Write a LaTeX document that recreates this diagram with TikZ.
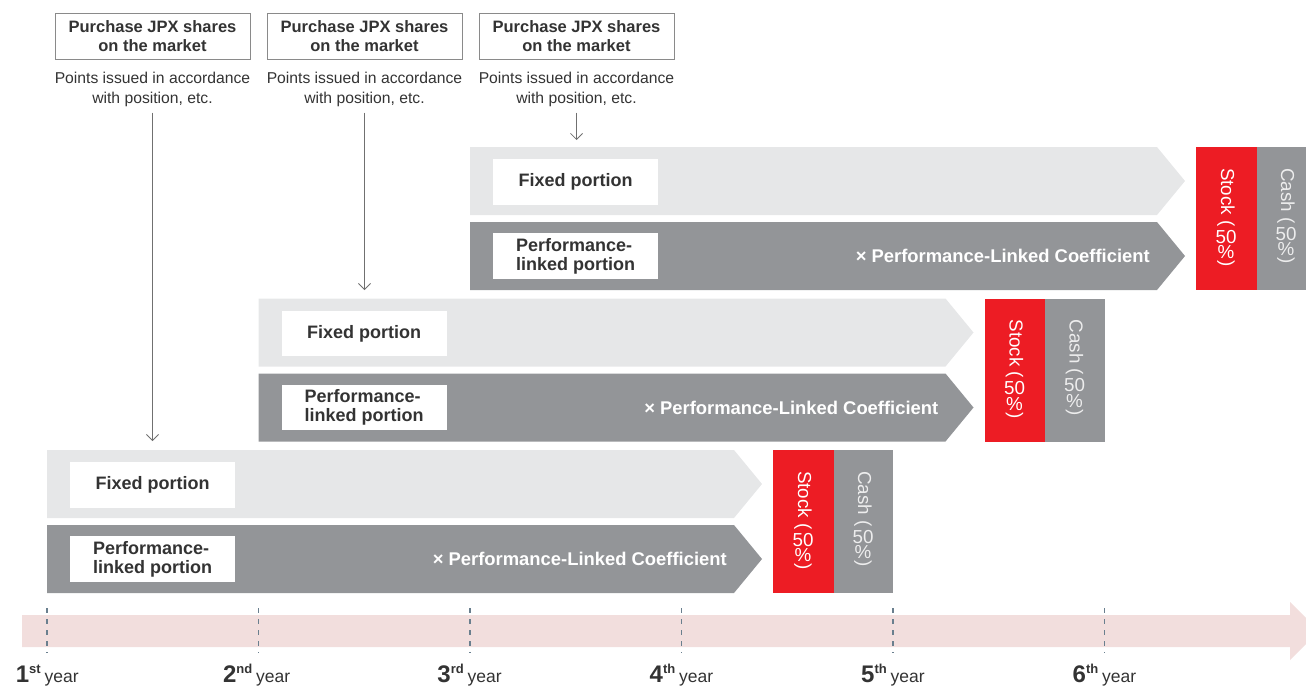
\documentclass[tikz,border=0pt]{standalone}
\usepackage{fontspec}
\setmainfont{Liberation Sans}
\usetikzlibrary{arrows.meta}
\definecolor{lightbar}{HTML}{E6E7E8}
\definecolor{darkbar}{HTML}{939598}
\definecolor{stockred}{HTML}{ED1C24}
\definecolor{bandpink}{HTML}{F2DEDD}
\definecolor{ticku}{HTML}{6A7F8E}
\definecolor{txt}{HTML}{333333}
\definecolor{boxline}{HTML}{8A8A8A}
\definecolor{arrowgray}{HTML}{707070}
\definecolor{cashtxt}{HTML}{EDEDED}
\tikzset{
 lbl/.style={fill=white, text=txt, font=\fontsize{18}{19}\selectfont\bfseries, minimum width=165pt, minimum height=45.5pt, inner sep=0pt, anchor=north west},
 coef/.style={text=white, font=\fontsize{18.4}{19}\selectfont\bfseries, inner sep=0pt, anchor=east},
 vrot/.style={rotate=-90, inner sep=0pt, font=\fontsize{18.8}{19}\selectfont, anchor=west},
 vup/.style={inner sep=0pt, font=\fontsize{18.8}{19}\selectfont, anchor=north},
 topbox/.style={draw=boxline, line width=0.8pt, fill=white, text=txt, minimum width=195pt, minimum height=46pt, align=center, font=\fontsize{16.5}{19}\selectfont\bfseries, inner sep=0pt},
 pts/.style={text=txt, align=center, font=\fontsize{15.7}{20}\selectfont, inner sep=0pt},
 arr/.style={draw=arrowgray, line width=0.8pt, -{Straight Barb[length=6pt,width=12pt]}},
 tickline/.style={draw=ticku, line width=1.1pt, dash pattern=on 5pt off 6pt},
 yrnum/.style={text=txt, inner sep=0pt, anchor=base east},
 yrword/.style={text=txt, inner sep=0pt, anchor=base west, font=\fontsize{17.5}{18}\selectfont},
}
\begin{document}
\begin{tikzpicture}[x=1pt,y=-1pt]
\useasboundingbox (0,0) rectangle (1306,686);
\clip (0,0) rectangle (1306,686);

% timeline band
\fill[bandpink] (22,615) -- (1290,615) -- (1290,602) -- (1319,631) -- (1290,660) -- (1290,647) -- (22,647) -- cycle;

% rows
\foreach \r/\X/\T in {1/47/450, 2/258.5/298.5, 3/470/147}{
  \fill[lightbar] (\X,\T) -- ({\X+687},\T) -- ({\X+715},{\T+34}) -- ({\X+687},{\T+68}) -- (\X,{\T+68}) -- cycle;
  \fill[darkbar] (\X,{\T+75}) -- ({\X+687},{\T+75}) -- ({\X+715},{\T+109}) -- ({\X+687},{\T+143}) -- (\X,{\T+143}) -- cycle;
  \node[lbl] (fl\r) at ({\X+23},{\T+12}) {Fixed portion};
  \node[lbl, align=left] (pl\r) at ({\X+23},{\T+86}) {Performance-\\linked portion};
  \node[coef] (cf\r) at ({\X+680},{\T+109}) {× Performance-Linked Coefficient};
  \fill[stockred] ({\X+726},\T) rectangle ({\X+786.5},{\T+143});
  \fill[darkbar] ({\X+786.5},\T) rectangle ({\X+846},{\T+143});
  % stock column
  \node[vrot, text=white] (sa\r) at ({\X+756},{\T+21}) {Stock (};
  \node[vup, text=white] (sb\r) at ([yshift=-3pt]sa\r.east) {50};
  \node[vup, text=white] (sc\r) at ([yshift=-2pt]sb\r.south) {\%};
  \node[vrot, text=white] (sd\r) at ([yshift=-1.5pt]sc\r.south) {)};
  % cash column
  \node[vrot, text=cashtxt] (ca\r) at ({\X+816},{\T+21}) {Cash (};
  \node[vup, text=cashtxt] (cb\r) at ([yshift=-3pt]ca\r.east) {50};
  \node[vup, text=cashtxt] (cc\r) at ([yshift=-2pt]cb\r.south) {\%};
  \node[vrot, text=cashtxt] (cd\r) at ([yshift=-1.5pt]cc\r.south) {)};
}

% top boxes and arrows
\foreach \i/\cx/\ty in {1/152.5/441, 2/364.5/290, 3/576.5/140}{
  \node[topbox] (pb\i) at (\cx,36) {Purchase JPX shares\\on the market};
  \node[pts] (pt\i) at (\cx,89) {Points issued in accordance\\with position, etc.};
  \coordinate (tg\i) at (\cx,\ty);
  \draw[arr] ([yshift=-6pt]pt\i.south) -- (tg\i);
}

% ticks and year labels
\foreach \i/\x/\s in {1/47/st, 2/258.5/nd, 3/470/rd, 4/681.5/th, 5/893/th, 6/1104.5/th}{
  \draw[tickline] (\x,608) -- (\x,653);
  \node[yrnum] (yn\i) at ({\x-6},682) {\fontsize{24}{24}\selectfont\bfseries \i\raisebox{8.5pt}{\fontsize{13}{13}\selectfont\bfseries \s}};
  \node[yrword] (yw\i) at ({\x-2.5},682) {year};
}
\end{tikzpicture}
\end{document}
